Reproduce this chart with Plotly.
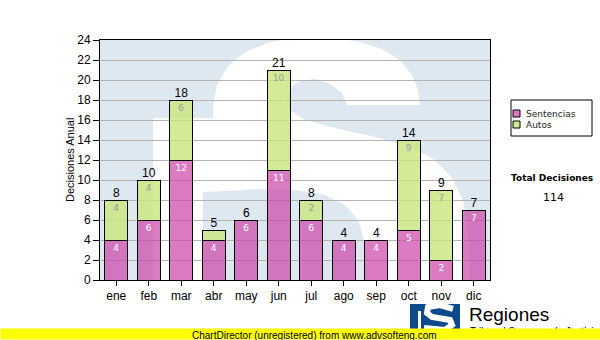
import plotly.graph_objects as go

# ---- data -------------------------------------------------------------
months = ["ene", "feb", "mar", "abr", "may", "jun",
          "jul", "ago", "sep", "oct", "nov", "dic"]
sentencias = [4, 6, 12, 4, 6, 11, 6, 4, 4, 5, 2, 7]
autos = [4, 4, 6, 1, 0, 10, 2, 0, 0, 9, 7, 0]
y_ticks = list(range(0, 25, 2))

totals = [s + a for s, a in zip(sentencias, autos)]
grand_total = sum(totals)
idx = list(range(len(months)))

# ---- geometry helpers (pixel -> axis / paper units) --------------------
W, H = 600, 340
L, R, T, B = 100, 490, 40, 280          # plot-area pixel box
CAT_PX = (R - L) / len(months)
Y_PX = (B - T) / 24


def ax_x(px):
    return (px - L) / CAT_PX - 0.5


def ax_y(py):
    return (B - py) / Y_PX


def pp_x(px):
    return (px - L) / (R - L)


def pp_y(py):
    return (B - py) / (B - T)


def poly(points, conv_x, conv_y):
    p = "M " + " L ".join(f"{conv_x(x):.4f},{conv_y(y):.4f}" for x, y in points)
    return p + " Z"


FONT = "Liberation Sans, Arial, sans-serif"
VFONT = "DejaVu Sans, Verdana, sans-serif"
PINK = "rgba(204,68,170,0.70)"
GREEN = "rgba(200,230,125,0.80)"

# ---- bars -------------------------------------------------------------
fig = go.Figure()
fig.add_trace(go.Bar(
    x=idx, y=sentencias, name="Sentencias", width=0.72,
    marker=dict(color=PINK, line=dict(color="black", width=1)),
    text=[str(v) if v >= 2 else "" for v in sentencias],
    textposition="inside", insidetextanchor="end", textangle=0,
    textfont=dict(family=VFONT, size=9, color="white"),
    hoverinfo="skip",
))
fig.add_trace(go.Bar(
    x=idx, y=autos, name="Autos", width=0.72,
    marker=dict(color=GREEN, line=dict(color="black", width=1)),
    text=[str(v) if v >= 2 else "" for v in autos],
    textposition="inside", insidetextanchor="end", textangle=0,
    textfont=dict(family=VFONT, size=9, color="#9a9a9a"),
    hoverinfo="skip",
))
fig.add_trace(go.Scatter(
    x=idx, y=totals, mode="text", text=[str(t) for t in totals],
    textposition="top center",
    textfont=dict(family=FONT, size=12, color="black"),
    hoverinfo="skip", showlegend=False, cliponaxis=False,
))

# ---- watermark: white "S" and strip on a light-blue square ------------
s_outline = [
    (420, 105), (418, 90), (412, 75), (400, 60), (382, 49), (360, 42),
    (330, 37), (300, 37), (270, 42), (245, 52), (228, 66), (217, 85),
    (213, 105), (213, 118), (153, 118), (153, 290), (203, 290),
    (203, 192), (225, 191), (260, 189), (295, 190), (325, 195),
    (345, 205), (358, 220), (364, 240), (366, 260), (366, 290),
    (470, 290), (468, 230), (463, 200), (452, 178), (435, 160),
    (410, 147), (375, 137), (335, 128), (305, 120), (290, 110),
    (286, 98), (290, 88), (300, 81), (315, 79), (330, 84), (342, 93),
    (347, 105),
]
shapes = [dict(type="path", xref="x", yref="y", layer="below",
               path=poly(s_outline, ax_x, ax_y),
               fillcolor="white", line=dict(width=0))]

# ---- hand-drawn legend box --------------------------------------------
shapes.append(dict(type="rect", xref="paper", yref="paper",
                   x0=pp_x(511), x1=pp_x(592), y0=pp_y(136), y1=pp_y(100),
                   line=dict(color="black", width=1), fillcolor="white"))
for yy, col in ((110, "#dd77c4"), (121, "#d0ea98")):
    shapes.append(dict(type="rect", xref="paper", yref="paper",
                       x0=pp_x(513), x1=pp_x(520), y0=pp_y(yy + 7), y1=pp_y(yy),
                       line=dict(color="black", width=1), fillcolor=col))

# ---- logo ---------------------------------------------------------------
shapes.append(dict(type="rect", xref="paper", yref="paper",
                   x0=pp_x(410), x1=pp_x(460), y0=pp_y(338), y1=pp_y(304),
                   line=dict(width=0), fillcolor="#0d4a8c"))
shapes.append(dict(type="rect", xref="paper", yref="paper",
                   x0=pp_x(418), x1=pp_x(421), y0=pp_y(338), y1=pp_y(311),
                   line=dict(width=0), fillcolor="white"))
logo_s = [(453, 309), (440, 305), (428, 307), (427, 313), (432, 317),
          (450, 320), (452, 325), (445, 330), (424, 328)]
shapes.append(dict(type="path", xref="paper", yref="paper",
                   path="M " + " L ".join(f"{pp_x(x):.4f},{pp_y(y):.4f}" for x, y in logo_s),
                   line=dict(color="white", width=6)))

annotations = [
    dict(text="Decisiones Anual", textangle=-90, x=pp_x(70), y=0.5,
         xref="paper", yref="paper", xanchor="center", yanchor="middle",
         showarrow=False, font=dict(family=FONT, size=11, color="black")),
    dict(text="Sentencias", x=pp_x(524), y=pp_y(113.5), xref="paper", yref="paper",
         xanchor="left", yanchor="middle", showarrow=False,
         font=dict(family=VFONT, size=9, color="#222")),
    dict(text="Autos", x=pp_x(524), y=pp_y(124.5), xref="paper", yref="paper",
         xanchor="left", yanchor="middle", showarrow=False,
         font=dict(family=VFONT, size=9, color="#222")),
    dict(text="<b>Total Decisiones</b>", x=pp_x(552), y=pp_y(178), xref="paper",
         yref="paper", xanchor="center", yanchor="middle", showarrow=False,
         font=dict(family=VFONT, size=9, color="black")),
    dict(text=str(grand_total), x=pp_x(553), y=pp_y(197), xref="paper",
         yref="paper", xanchor="center", yanchor="middle", showarrow=False,
         font=dict(family=VFONT, size=11, color="black")),
    dict(text="Regiones", x=pp_x(467), y=pp_y(314), xref="paper", yref="paper",
         xanchor="left", yanchor="middle", showarrow=False,
         font=dict(family=FONT, size=19, color="black")),
    dict(text="Tribunal Supremo de Justicia", x=pp_x(468), y=pp_y(331.5),
         xref="paper", yref="paper", xanchor="left", yanchor="middle",
         showarrow=False, font=dict(family=FONT, size=10, color="black")),
    # yellow footer band
    dict(text="\u00a0", x=pp_x(0), y=pp_y(340), xref="paper", yref="paper",
         xanchor="left", yanchor="bottom", width=600, height=10, borderpad=0,
         bgcolor="#ffff00", showarrow=False, font=dict(size=8)),
    dict(text="ChartDirector (unregistered) from www.advsofteng.com",
         x=pp_x(190), y=pp_y(335), xref="paper", yref="paper",
         xanchor="left", yanchor="middle", showarrow=False,
         font=dict(family=FONT, size=10, color="black")),
]

fig.update_layout(
    width=W, height=H, barmode="stack", showlegend=False,
    margin=dict(l=L, r=W - R, t=T, b=H - B, pad=0),
    paper_bgcolor="white", plot_bgcolor="#dee8f1",
    font=dict(family=FONT, size=12, color="black"),
    shapes=shapes, annotations=annotations,
    uniformtext=dict(minsize=9, mode="show"),
)
fig.update_xaxes(range=[-0.5, 11.5], tickmode="array", tickvals=idx,
                 ticktext=months, ticks="outside", ticklen=5, tickcolor="black",
                 showline=True, linecolor="black", linewidth=1, mirror=True,
                 showgrid=False, zeroline=False,
                 tickfont=dict(family=FONT, size=12, color="black"))
fig.update_yaxes(range=[0, 24], tickmode="array", tickvals=y_ticks,
                 ticks="outside", ticklen=6, tickcolor="black",
                 showline=True, linecolor="black", linewidth=1, mirror=True,
                 showgrid=True, gridcolor="#b4b4b4", gridwidth=1,
                 zeroline=False,
                 tickfont=dict(family=FONT, size=12, color="black"))

fig.write_html("out.html")
